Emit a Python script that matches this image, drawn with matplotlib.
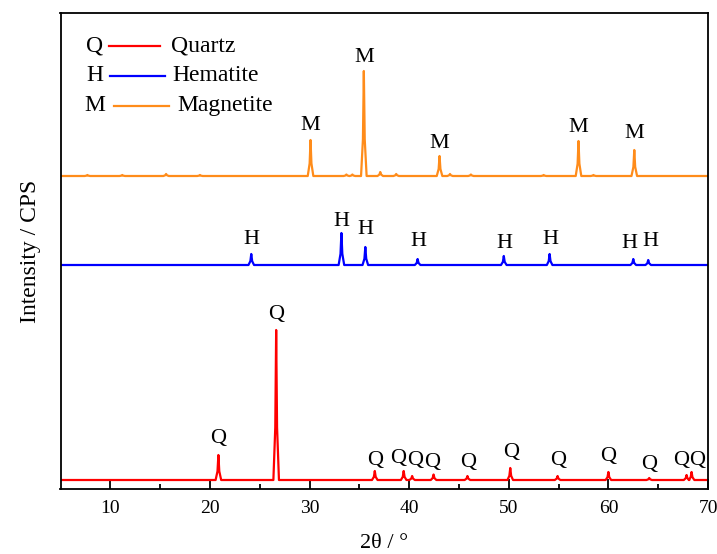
import numpy as np
import matplotlib
matplotlib.use("Agg")
import matplotlib.pyplot as plt

plt.rcParams.update({
    "font.family": ["Liberation Serif", "DejaVu Serif"],
    "mathtext.fontset": "stix",
})

# stacked XRD patterns, intensity in arbitrary (offset) units
QUARTZ_BASE = 9
QUARTZ_POS = [20.85, 26.65, 36.55, 39.45, 40.3, 42.45, 45.85, 50.15, 54.9, 60.0, 64.1, 67.85, 68.35]
QUARTZ_H = [25, 150, 9, 9, 4, 5.5, 4, 12, 4, 8, 2, 5, 8]
QUARTZ_LBL_X = [20.85, 26.65, 36.6, 38.9, 40.6, 42.3, 45.9, 50.2, 55.0, 60.0, 64.1, 67.3, 68.9]
QUARTZ_LBL_Y = [51, 174, 29, 31, 29, 27, 26, 36, 29, 33, 24, 29, 29]

HEMATITE_BASE = 224
HEMATITE_POS = [24.15, 33.2, 35.6, 40.85, 49.5, 54.1, 62.5, 64.0]
HEMATITE_H = [11, 32, 18, 6, 9, 11, 6, 5]
HEMATITE_LBL_X = [24.2, 33.2, 35.6, 40.9, 49.6, 54.2, 62.1, 64.2]
HEMATITE_LBL_Y = [249, 268, 260, 247, 246, 250, 246, 248]

MAGNETITE_BASE = 313
MAGNETITE_POS = [7.7, 11.2, 15.6, 19.0, 30.1, 33.7, 34.3, 35.45, 37.1, 38.7, 43.05, 44.1, 46.2, 53.5, 57.0, 58.5, 62.6]
MAGNETITE_H = [1, 1, 2, 1, 36, 1.5, 1.5, 105, 4, 2, 20, 2, 1.5, 1, 35, 1, 26]
MAGNETITE_LBL_X = [30.1, 35.5, 43.0, 57.0, 62.6]
MAGNETITE_LBL_Y = [363, 432, 346, 361, 356]

X_MIN, X_MAX = 5, 70
HALF_WIDTH = 0.28


def build_trace(base, centers, heights):
    xs = [X_MIN]
    ys = [base]
    for c, h in zip(centers, heights):
        xs += [c - HALF_WIDTH, c - 0.09, c, c + 0.09, c + HALF_WIDTH]
        ys += [base, base + h * 0.35, base + h, base + h * 0.35, base]
    xs.append(X_MAX)
    ys.append(base)
    return np.array(xs), np.array(ys)


fig = plt.figure(figsize=(7.17, 5.54), dpi=100)
ax = fig.add_axes([60.5 / 717, 65 / 554, 647.5 / 717, 476 / 554])

series = [
    (QUARTZ_BASE, QUARTZ_POS, QUARTZ_H, QUARTZ_LBL_X, QUARTZ_LBL_Y, "Q", "#FF0000"),
    (HEMATITE_BASE, HEMATITE_POS, HEMATITE_H, HEMATITE_LBL_X, HEMATITE_LBL_Y, "H", "#0000FF"),
    (MAGNETITE_BASE, MAGNETITE_POS, MAGNETITE_H, MAGNETITE_LBL_X, MAGNETITE_LBL_Y, "M", "#FF8C1A"),
]

for base, pos, h, lx, ly, tag, color in series:
    x, y = build_trace(base, pos, h)
    ax.plot(x, y, color=color, linewidth=1.6)
    for px, py in zip(lx, ly):
        ax.text(px, py, tag, ha="center", va="center", fontsize=16)

# legend drawn by hand: letter, line, name
legend_rows = [
    ("Q", "Quartz", "#FF0000", 0.931, 0.075, 0.154, 0.171),
    ("H", "Hematite", "#0000FF", 0.868, 0.077, 0.162, 0.173),
    ("M", "Magnetite", "#FF8C1A", 0.805, 0.083, 0.168, 0.180),
]
for tag, name, color, yy, x0, x1, xt in legend_rows:
    ax.text(0.053, yy, tag, transform=ax.transAxes, ha="center", va="center", fontsize=17)
    ax.plot([x0, x1], [yy, yy], color=color, linewidth=1.6, transform=ax.transAxes)
    ax.text(xt, yy, name, transform=ax.transAxes, ha="left", va="center", fontsize=17)

ax.set_xlim(X_MIN, X_MAX)
ax.set_ylim(0, 476)
ax.set_xticks([10, 20, 30, 40, 50, 60, 70])
ax.set_xticks([15, 25, 35, 45, 55, 65], minor=True)
ax.set_yticks([])
ax.tick_params(axis="x", which="major", direction="in", length=7, width=1.3, labelsize=14, pad=8)
ax.tick_params(axis="x", which="minor", direction="in", length=3.5, width=1.3)
for sp in ax.spines.values():
    sp.set_linewidth(1.3)

ax.set_xlabel("2θ / °", fontsize=16, labelpad=12)
ax.set_ylabel("Intensity / CPS", fontsize=17, labelpad=14)

plt.savefig("out.png", dpi=100)
